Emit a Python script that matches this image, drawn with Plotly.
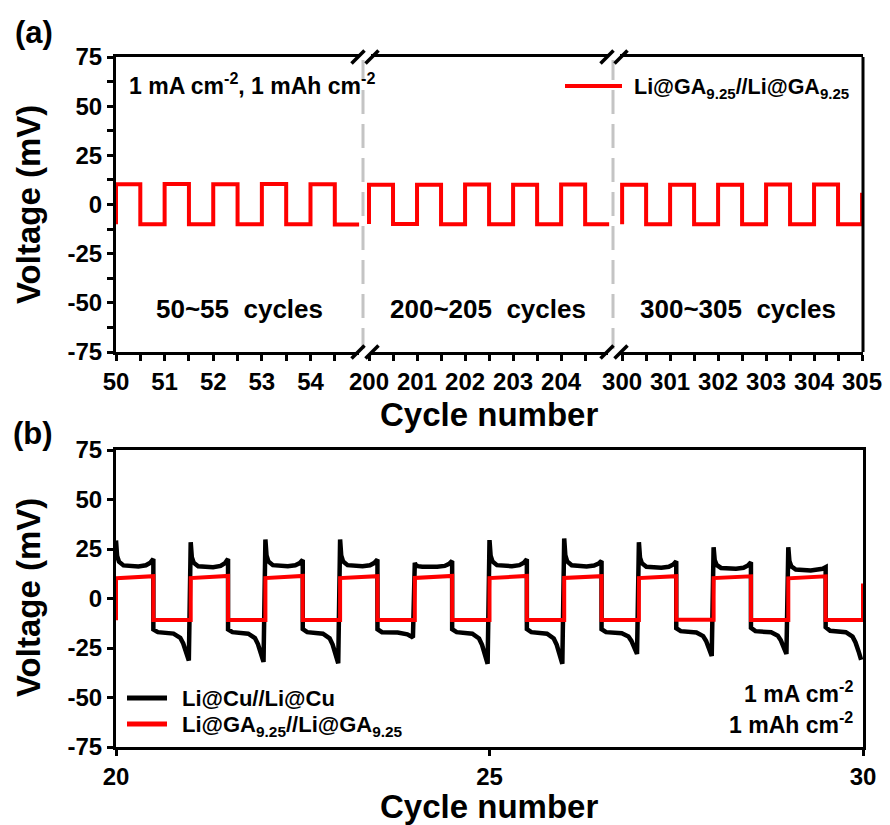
import plotly.graph_objects as go

# ---------------- data: panel (a) ----------------
seg_labels = ["50~55  cycles", "200~205  cycles", "300~305  cycles"]
seg1_cycles = [50, 51, 52, 53, 54]
seg1_charge = [10.3, 10.4, 10.3, 10.4, 10.3]
seg1_discharge = [-10.0, -10.1, -10.0, -10.1, -10.2]
seg2_cycles = [200, 201, 202, 203, 204]
seg2_charge = [10.0, 10.1, 10.2, 10.1, 10.2]
seg2_discharge = [-9.9, -10.0, -10.1, -10.0, -10.1]
seg3_cycles = [300, 301, 302, 303, 304]
seg3_charge = [10.0, 10.1, 10.0, 10.2, 10.2]
seg3_discharge = [-10.0, -10.0, -10.1, -10.0, -10.1]
seg3_end_cycle = 305
seg3_end_voltage = 6.0
seg1_ticks = [50, 51, 52, 53, 54]
seg2_ticks = [200, 201, 202, 203, 204]
seg3_ticks = [300, 301, 302, 303, 304, 305]

# ---------------- data: panel (b) ----------------
b_cycles = [20, 21, 22, 23, 24, 25, 26, 27, 28, 29]
cu_peak = [29.3, 28.4, 29.8, 29.8, 18.0, 29.5, 30.3, 28.4, 25.9, 25.9]
cu_charge_plateau = [16.2, 15.8, 16.3, 16.3, 16.0, 16.3, 16.2, 15.5, 15.0, 14.2]
cu_charge_end = [20.0, 20.0, 19.5, 19.7, 19.0, 19.8, 19.0, 18.8, 18.3, 15.8]
cu_discharge_start = [-15.6, -15.6, -15.4, -15.5, -15.5, -15.4, -15.5, -15.0, -14.8, -14.5]
cu_discharge_plateau = [-17.0, -17.0, -17.0, -17.0, -17.0, -17.0, -17.0, -16.5, -16.5, -16.3]
cu_discharge_end = [-31.3, -32.0, -32.7, -19.7, -33.0, -33.0, -28.0, -29.0, -28.0, -31.0]
ga_charge_start = [10.2, 10.3, 10.3, 10.3, 10.4, 10.3, 10.4, 10.3, 10.3, 10.2]
ga_charge_end = [11.3, 11.4, 11.4, 11.3, 11.4, 11.4, 11.3, 11.3, 11.2, 11.2]
ga_discharge = [-10.8, -10.9, -10.8, -10.8, -10.9, -10.8, -10.8, -10.7, -10.8, -10.8]
ga_start_voltage = -11.0
ga_end_voltage = 7.6
b_ticks = [20, 25, 30]
y_ticks = [-75, -50, -25, 0, 25, 50, 75]
y_ticktext = ["-75", "-50", "-25", "0", "25", "50", "75"]

# shape of one Li@Cu cycle (phase within cycle, weight)
cu_charge_decay = [(0.0, 1.0), (0.015, 0.4), (0.04, 0.18), (0.1, 0.04), (0.3, 0.0)]
cu_charge_rise = [(0.4, 0.15), (0.46, 0.5), (0.5, 1.0)]
cu_discharge_tail = [(0.77, 0.05), (0.86, 0.2), (0.9, 0.4), (0.94, 0.7), (0.975, 1.0)]

RED = "#ff0000"
FONT = "Arial, 'Liberation Sans', sans-serif"

# ---------------- geometry helpers ----------------
W, H = 890, 825
L, R, T, B = 116, 863, 57, 747


def px(x):
    return (x - L) / (R - L)


def py(y):
    return (B - y) / (B - T)


TOP_DOM = [py(352), 1.0]
BOT_DOM = [0.0, py(450)]
BRK1, BRK2 = 363, 613
X1_DOM = [0.0, px(BRK1)]
X2_DOM = [px(BRK1), px(BRK2)]
X3_DOM = [px(BRK2), 1.0]


def step_series(cycles, charge, discharge):
    xs, ys = [cycles[0]], [discharge[0]]
    for c, hi, lo in zip(cycles, charge, discharge):
        xs += [c, c + 0.5, c + 0.5, c + 1]
        ys += [hi, hi, lo, lo]
    return xs, ys


fig = go.Figure()

# panel (a) traces
x1, y1 = step_series(seg1_cycles, seg1_charge, seg1_discharge)
x2, y2 = step_series(seg2_cycles, seg2_charge, seg2_discharge)
x3, y3 = step_series(seg3_cycles, seg3_charge, seg3_discharge)
x3 += [seg3_end_cycle]
y3 += [seg3_end_voltage]
for xs, ys, xa in [(x1, y1, "x"), (x2, y2, "x2"), (x3, y3, "x3")]:
    fig.add_trace(go.Scatter(x=xs, y=ys, xaxis=xa, yaxis="y", mode="lines",
                             line=dict(color=RED, width=4), name="Li@GA9.25//Li@GA9.25",
                             showlegend=False, hoverinfo="skip"))

# panel (b): Li@Cu
cx, cy = [], []
for i, c in enumerate(b_cycles):
    pk, pl, en = cu_peak[i], cu_charge_plateau[i], cu_charge_end[i]
    for ph, w in cu_charge_decay:
        cx.append(c + ph)
        cy.append(pl + w * (pk - pl))
    for ph, w in cu_charge_rise:
        cx.append(c + ph)
        cy.append(pl + w * (en - pl))
    cx.append(c + 0.5)
    cy.append(cu_discharge_start[i])
    cx.append(c + 0.56)
    cy.append(cu_discharge_plateau[i])
    for ph, w in cu_discharge_tail:
        cx.append(c + ph)
        cy.append(cu_discharge_plateau[i] + w * (cu_discharge_end[i] - cu_discharge_plateau[i]))
fig.add_trace(go.Scatter(x=cx, y=cy, xaxis="x4", yaxis="y4", mode="lines",
                         line=dict(color="black", width=4.5), name="Li@Cu//Li@Cu",
                         showlegend=False, hoverinfo="skip"))

# panel (b): Li@GA
gx, gy = [b_cycles[0]], [ga_start_voltage]
for i, c in enumerate(b_cycles):
    gx += [c, c + 0.5, c + 0.5, c + 1]
    gy += [ga_charge_start[i], ga_charge_end[i], ga_discharge[i], ga_discharge[i]]
gx.append(b_cycles[-1] + 1)
gy.append(ga_end_voltage)
fig.add_trace(go.Scatter(x=gx, y=gy, xaxis="x4", yaxis="y4", mode="lines",
                         line=dict(color=RED, width=4), name="Li@GA9.25//Li@GA9.25",
                         showlegend=False, hoverinfo="skip"))

TICKFONT = dict(family=FONT, size=24, color="black", weight="bold")
AX = dict(showline=True, linewidth=3, linecolor="black", showgrid=False, zeroline=False,
          ticks="outside", ticklen=6, tickwidth=3, tickcolor="black", tickfont=TICKFONT,
          automargin=False)


def minor(vals):
    return dict(tickvals=vals, ticks="outside", ticklen=6, tickwidth=3, tickcolor="black")


def halves(vals):
    return [v + 0.5 for v in vals]


fig.update_layout(
    width=W, height=H, autosize=False,
    margin=dict(l=L, r=W - R, t=T, b=H - B, pad=0),
    paper_bgcolor="white", plot_bgcolor="white",
    showlegend=False,
    xaxis=dict(AX, domain=X1_DOM, range=[50, 55.08], anchor="y", mirror=True,
               tickvals=seg1_ticks, minor=minor(halves(seg1_ticks))),
    xaxis2=dict(AX, domain=X2_DOM, range=[199.875, 205.08], anchor="y", mirror=True,
                tickvals=seg2_ticks, minor=minor(halves(seg2_ticks))),
    xaxis3=dict(AX, domain=X3_DOM, range=[299.81, 305.02], anchor="y", mirror=True,
                tickvals=seg3_ticks, minor=minor(halves(seg3_ticks[:-1]))),
    yaxis=dict(AX, domain=TOP_DOM, range=[-75, 75], anchor="x", tickvals=y_ticks,
               ticktext=y_ticktext, minor=minor([v + 12.5 for v in y_ticks[:-1]])),
    xaxis4=dict(AX, domain=[0, 1], range=[20, 30], anchor="y4", mirror=True, tickvals=b_ticks),
    yaxis4=dict(AX, domain=BOT_DOM, range=[-75, 75], anchor="x4", mirror=True,
                tickvals=y_ticks, ticktext=y_ticktext),
)

shapes = []
# gray dashed separators
for bx in (BRK1, BRK2):
    shapes.append(dict(type="line", xref="paper", yref="paper", x0=px(bx), x1=px(bx),
                       y0=TOP_DOM[0], y1=TOP_DOM[1], layer="below",
                       line=dict(color="#c4c4c4", width=3, dash="24px,10px")))
# right border of panel (a)
shapes.append(dict(type="line", xref="paper", yref="paper", x0=1, x1=1,
                   y0=TOP_DOM[0], y1=TOP_DOM[1], line=dict(color="black", width=3)))
# axis-break marks
for bcx in (BRK1 + 2, BRK2 + 1):
    for byy in (57, 352):
        shapes.append(dict(type="rect", xref="paper", yref="paper",
                           x0=px(bcx - 6), x1=px(bcx + 6), y0=py(byy + 3), y1=py(byy - 3),
                           fillcolor="white", line=dict(width=0)))
        shapes.append(dict(type="line", xref="paper", yref="paper",
                           x0=px(bcx - 13.5), y0=py(byy + 6.5), x1=px(bcx - 0.5), y1=py(byy - 6.5),
                           line=dict(color="black", width=3.5)))
        shapes.append(dict(type="line", xref="paper", yref="paper",
                           x0=px(bcx + 0.5), y0=py(byy + 6.5), x1=px(bcx + 13.5), y1=py(byy - 6.5),
                           line=dict(color="black", width=3.5)))
# legend lines
shapes.append(dict(type="line", xref="paper", yref="paper", x0=px(565), x1=px(622),
                   y0=py(86), y1=py(86), line=dict(color=RED, width=4)))
shapes.append(dict(type="line", xref="paper", yref="paper", x0=px(127), x1=px(167),
                   y0=py(698), y1=py(698), line=dict(color="black", width=5)))
shapes.append(dict(type="line", xref="paper", yref="paper", x0=px(127), x1=px(167),
                   y0=py(724), y1=py(724), line=dict(color=RED, width=5)))
fig.update_layout(shapes=shapes)


def ann(text, x, y, size, xanchor="center", yanchor="middle", angle=0):
    return dict(text=text, xref="paper", yref="paper", x=px(x), y=py(y), showarrow=False,
                xanchor=xanchor, yanchor=yanchor, textangle=angle,
                font=dict(family=FONT, size=size, color="black", weight="bold"))


GA = "Li@GA<sub>9.25</sub>//Li@GA<sub>9.25</sub>"
annotations = [
    ann("(a)", 34, 32, 31),
    ann("(b)", 33, 433, 31),
    ann("Voltage (mV)", 28, 205, 33, angle=-90),
    ann("Voltage (mV)", 28, 598, 33, angle=-90),
    ann("Cycle number", 489, 414, 33),
    ann("Cycle number", 489, 806, 33),
    ann("1 mA cm<sup>-2</sup>, 1 mAh cm<sup>-2</sup>", 127, 84, 23, xanchor="left"),
    ann(GA, 632, 88, 21.5, xanchor="left"),
    ann(seg_labels[0], (L + BRK1) / 2, 309, 26),
    ann(seg_labels[1], (BRK1 + BRK2) / 2, 309, 26),
    ann(seg_labels[2], (BRK2 + R) / 2, 309, 26),
    ann("Li@Cu//Li@Cu", 180, 698, 22, xanchor="left"),
    ann(GA, 180, 726, 22, xanchor="left"),
    ann("1 mA cm<sup>-2</sup>", 855, 692, 23, xanchor="right"),
    ann("1 mAh cm<sup>-2</sup>", 855, 723, 23, xanchor="right"),
]
fig.update_layout(annotations=annotations)

fig.write_html("out.html")
